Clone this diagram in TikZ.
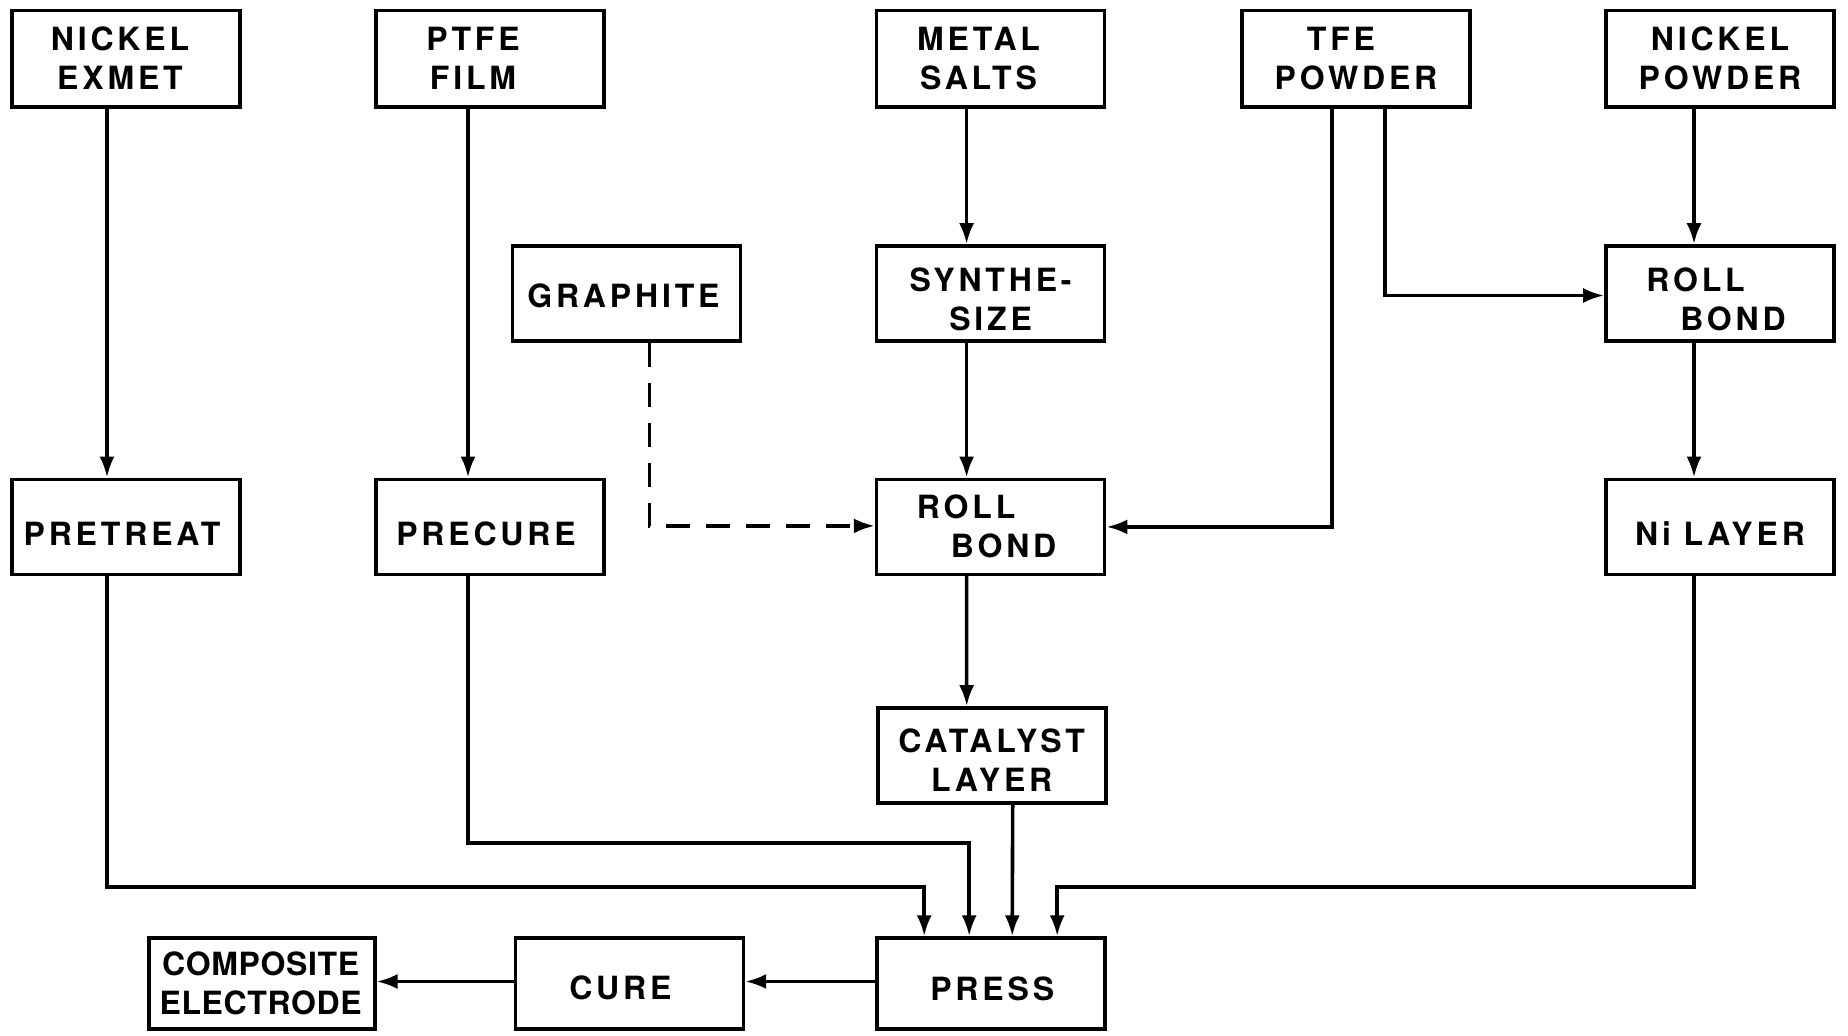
\documentclass[tikz,border=0pt]{standalone}
\usepackage{fontspec}
\setmainfont{TeX Gyre Heros}[LetterSpace=12]
\usetikzlibrary{arrows.meta,calc}
% #1 = twice the horizontal shift, #2 = vertical shift, #3 = column spec, #4 = text
\newcommand{\lbl}[4]{\hspace*{#1}\raisebox{#2}[\height][\depth]{\begin{tabular}{@{}#3@{}}#4\end{tabular}}}
\begin{document}
\begin{tikzpicture}[x=0.5pt,y=-0.5pt,
  box/.style={draw,line width=1.8pt,minimum width=114pt,minimum height=47.5pt,inner sep=0pt,
    font=\fontsize{16}{19.5}\selectfont\bfseries},
  arr/.style={line width=1.8pt,-{Latex[length=10.5pt,width=7.5pt]}},
  dsh/.style={arr,dash pattern=on 12pt off 8pt}]
\useasboundingbox (0,0) rectangle (1848,1036);
% row 1
\node[box,minimum height=48.3pt] (ne) at (126,59) {\lbl{-6pt}{-1.8pt}{c}{NICKEL\\EXMET}};
\node[box,minimum height=48.3pt] (ptfe) at (490,59) {\lbl{-17pt}{-1.8pt}{c}{PTFE\\FILM}};
\node[box,minimum height=48.3pt] (ms) at (990.6,59) {\lbl{-12pt}{-1.8pt}{c}{METAL\\SALTS}};
\node[box,minimum height=48.3pt] (tfe) at (1356,59) {\lbl{0pt}{-1.8pt}{c}{\hspace*{-15pt}TFE\\POWDER}};
\node[box,minimum height=48.3pt] (np) at (1720,59) {\lbl{0pt}{-1.8pt}{c}{NICKEL\\POWDER}};
% row 2
\node[box] (gr) at (626.4,293.5) {\lbl{-3pt}{-3pt}{c}{GRAPHITE}};
\node[box] (syn) at (990.6,293.5) {\lbl{0pt}{-4.8pt}{c}{SYNTHE-\\SIZE}};
\node[box] (rbr) at (1720,293.5) {\lbl{-4pt}{-4.8pt}{l}{ROLL\\\hspace*{17pt}BOND}};
% row 3
\node[box] (pre) at (126,526.9) {\lbl{-4pt}{-5.6pt}{c}{PRETREAT}};
\node[box] (pc) at (490,526.9) {\lbl{-4pt}{-5.6pt}{c}{PRECURE}};
\node[box] (rbc) at (990.6,526.9) {\lbl{-4pt}{-1.8pt}{l}{ROLL\\\hspace*{17pt}BOND}};
\node[box] (ni) at (1720,526.9) {\lbl{0pt}{-5.6pt}{c}{Ni LAYER}};
% catalyst
\node[box] (cat) at (991.7,755.5) {\lbl{0pt}{-4.2pt}{c}{CATALYST\\LAYER}};
% bottom
\node[box,minimum height=45.4pt] (press) at (991.2,983.5) {\lbl{1pt}{-4.8pt}{c}{PRESS}};
\node[box,minimum height=45.4pt] (cure) at (629.4,983.5) {\lbl{-9pt}{-4pt}{c}{CURE}};
\node[box,minimum height=45.4pt,minimum width=113pt,font=\fontsize{16}{19.5}\selectfont\bfseries\addfontfeatures{LetterSpace=2}] (comp) at (261.7,983.5) {\lbl{-1pt}{-1.8pt}{c}{COMPOSITE\\ELECTRODE}};
% connectors
\draw[arr] ($(ne.south)+(-19,0)$) -- ($(pre.north)+(-19,0)$);
\draw[arr] ($(ptfe.south)+(-22,0)$) -- ($(pc.north)+(-22,0)$);
\draw[arr] ($(ms.south)+(-24,0)$) -- ($(syn.north)+(-24,0)$);
\draw[arr] ($(syn.south)+(-24,0)$) -- ($(rbc.north)+(-24,0)$);
\draw[arr] ($(tfe.south)+(-24,0)$) |- (rbc.east);
\draw[arr] ($(tfe.south)+(29,0)$) |- ($(rbr.west)+(0,2)$);
\draw[arr] ($(np.south)+(-26,0)$) -- ($(rbr.north)+(-26,0)$);
\draw[arr] ($(rbr.south)+(-26,0)$) -- ($(ni.north)+(-26,0)$);
\draw[dsh] ($(gr.south)+(23,0)$) |- ($(rbc.west)+(0,-1)$);
\draw[arr] ($(rbc.south)+(-24,0)$) -- ($(cat.north)+(-25,0)$);
\draw[arr] ($(cat.south)+(21,0)$) -- ($(press.north)+(21,0)$);
\draw[arr] ($(pre.south)+(-19,0)$) |- ($(press.north)+(-67,-49.4)$) -- ($(press.north)+(-67,0)$);
\draw[arr] ($(pc.south)+(-22,0)$) |- ($(press.north)+(-22,-93)$) -- ($(press.north)+(-22,0)$);
\draw[arr] ($(ni.south)+(-26,0)$) |- ($(press.north)+(66,-49.4)$) -- ($(press.north)+(66,0)$);
\draw[arr] ($(press.west)+(0,-2)$) -- ($(cure.east)+(0,-2)$);
\draw[arr] ($(cure.west)+(0,-2)$) -- ($(comp.east)+(0,-2)$);
\end{tikzpicture}
\end{document}
